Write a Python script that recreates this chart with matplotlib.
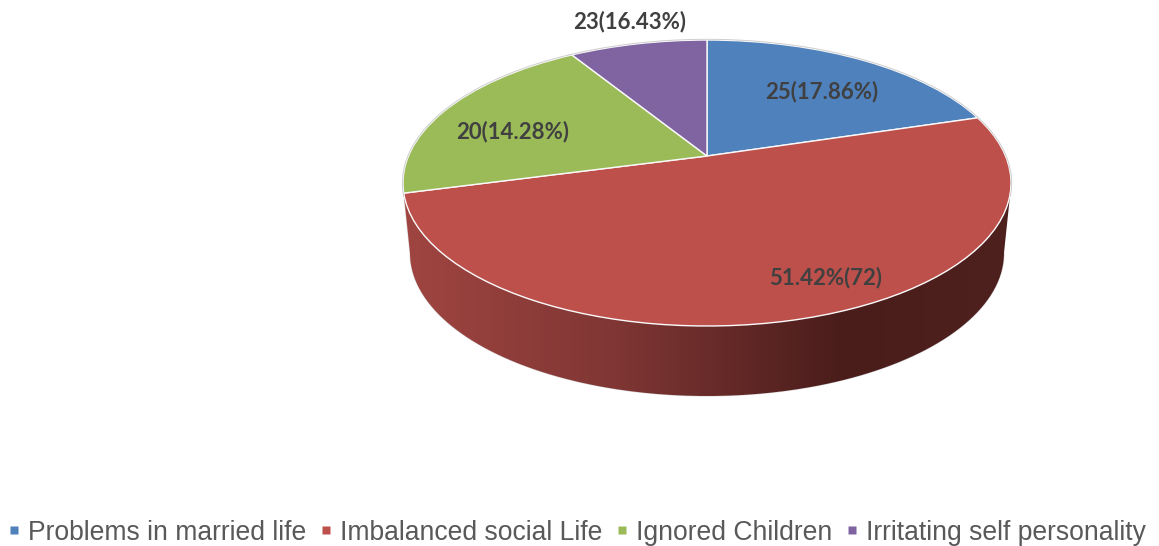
import numpy as np
import matplotlib
matplotlib.use("Agg")
import matplotlib.pyplot as plt
from matplotlib.colors import LinearSegmentedColormap
from matplotlib.lines import Line2D
from matplotlib.patches import PathPatch
from matplotlib.path import Path

W, H = 1159, 546

# slice shares as drawn (the printed labels do not follow the angles)
categories = ["Problems in married life", "Imbalanced social Life",
              "Ignored Children", "Irritating self personality"]
drawn_share = [17.47, 56.4, 18.8, 7.33]
slice_labels = ["25(17.86%)", "51.42%(72)", "20(14.28%)", "23(16.43%)"]
colors = ["#4F81BD", "#BE504C", "#9BBB59", "#8064A2"]

# ellipse of the pie top, in pixels
CX, CY, RX, RY = 707, 183, 304, 143
APEX_Y = 156
# lower rim of the side wall, in pixels
BOTTOM_CY, BOTTOM_RX = 253, 297


def px(x, y):
    # pixel position to unit-circle data coords
    return (x - CX) / RX, (CY - y) / RY


fig = plt.figure(figsize=(W / 100, H / 100), dpi=100)
ax = fig.add_axes([0, 0, 1, 1])

wedges, _ = ax.pie(drawn_share, colors=colors, startangle=90, counterclock=False,
                   radius=1, wedgeprops={"edgecolor": "#FAFAFA", "linewidth": 1.0, "zorder": 3})
ax.set_aspect("auto")
x0, y1 = px(0, 0)
x1, y0 = px(W, H)
ax.set_xlim(x0, x1)
ax.set_ylim(y0, y1)
ax.axis("off")

# the tip of the slices sits above the centre of the ellipse
apex = px(CX, APEX_Y)
for w in wedges:
    verts = w.get_path().vertices
    verts[np.all(np.isclose(verts, 0), axis=1)] = apex

# thin grey rim behind the upper half of the top
t = np.linspace(-0.03 * np.pi, 1.03 * np.pi, 300)
ax.plot(1.002 * np.cos(t), 1.005 * np.sin(t), color="#CFCFCF", lw=0.7, zorder=4)

# side wall with horizontal gradient
t = np.linspace(np.pi * 1.02, np.pi * 1.98, 200)
top_x, top_y = np.cos(t), np.sin(t)
t2 = np.linspace(np.pi, 2 * np.pi, 200)
low_x = BOTTOM_RX / RX * np.cos(t2)
low_y = np.sin(t2) + (CY - BOTTOM_CY) / RY
# walk: right to left along the top rim, then left to right along the lower rim
wall = Path(np.c_[np.r_[top_x[::-1], low_x], np.r_[top_y[::-1], low_y]])

outline = PathPatch(wall, facecolor="none", edgecolor="#D8D8D8", lw=0.8, zorder=1)
ax.add_patch(outline)

wall_cmap = LinearSegmentedColormap.from_list(
    "wall", [(0, "#A04541"), (0.35, "#7F3634"), (0.72, "#4A1D1B"), (1, "#4E201E")])
img = ax.imshow(np.linspace(0, 1, 512)[None, :], cmap=wall_cmap, aspect="auto",
                extent=(-1, 1, -1.6, 0), zorder=1.5)
clip = PathPatch(wall, transform=ax.transData, facecolor="none", edgecolor="none")
ax.add_patch(clip)
img.set_clip_path(clip)
ax.set_xlim(x0, x1)
ax.set_ylim(y0, y1)

# slice labels
label_pos = [(822, 92), (826, 278), (513, 132), (630, 22)]
for txt, (lx, ly) in zip(slice_labels, label_pos):
    ax.text(*px(lx, ly), txt, family="Lato", fontweight="bold", fontsize=16,
            color="#404040", ha="center", va="center", zorder=5)

handles = [Line2D([], [], linestyle="none", marker="s", markersize=5.6,
                  markerfacecolor=c, markeredgecolor="none") for c in colors]
ax.legend(handles, categories, loc="lower left", bbox_to_anchor=(2 / W, -5 / H), ncols=4,
          frameon=False, prop={"family": "Liberation Sans", "size": 19.1},
          labelcolor="#595959", handlelength=0.5, handletextpad=0.27, columnspacing=0.5,
          borderpad=0.2, borderaxespad=0)

fig.savefig("out.png", dpi=100)
